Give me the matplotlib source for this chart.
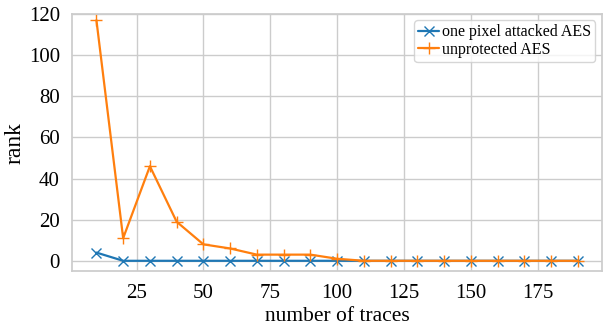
import matplotlib
matplotlib.use("Agg")
import matplotlib.pyplot as plt
import seaborn as sns

traces = list(range(10, 200, 10))
one_pixel = [4, 0, 0, 0, 0, 0, 0, 0, 0, 0, 0, 0, 0, 0, 0, 0, 0, 0, 0]
unprotected = [117, 11, 46, 19, 8, 6, 3, 3, 3, 1, 0, 0, 0, 0, 0, 0, 0, 0, 0]
yticks = [0, 20, 40, 60, 80, 100, 120]
xticks = [25, 50, 75, 100, 125, 150, 175]

sns.set_theme(style="whitegrid")
plt.rcParams['font.family'] = ['Liberation Serif', 'DejaVu Serif']
plt.rcParams['text.color'] = 'black'
plt.rcParams['axes.labelcolor'] = 'black'
plt.rcParams['xtick.color'] = 'black'
plt.rcParams['ytick.color'] = 'black'

fig = plt.figure(figsize=(6.03, 3.27), dpi=100)
ax = fig.add_axes([0.12, 0.171, 0.878, 0.786])
ax.plot(traces, one_pixel, marker='x', color='#1f77b4', lw=1.6, ms=7, label='one pixel attacked AES')
ax.plot(traces, unprotected, marker='+', color='#ff7f0e', lw=1.6, ms=8, label='unprotected AES')
ax.set_xlabel('number of traces', fontsize=15.5, labelpad=3)
ax.set_ylabel('rank', fontsize=17, labelpad=2)
ax.set_yticks(yticks)
ax.set_xticks(xticks)
ax.set_ylim(-5, 120)
ax.tick_params(labelsize=15, pad=3)
ax.legend(fontsize=11.5, loc='upper right', handlelength=1.3, handletextpad=0.2,
          borderpad=0.25, labelspacing=0.1, borderaxespad=0.4)
fig.savefig('out.png', dpi=100)
